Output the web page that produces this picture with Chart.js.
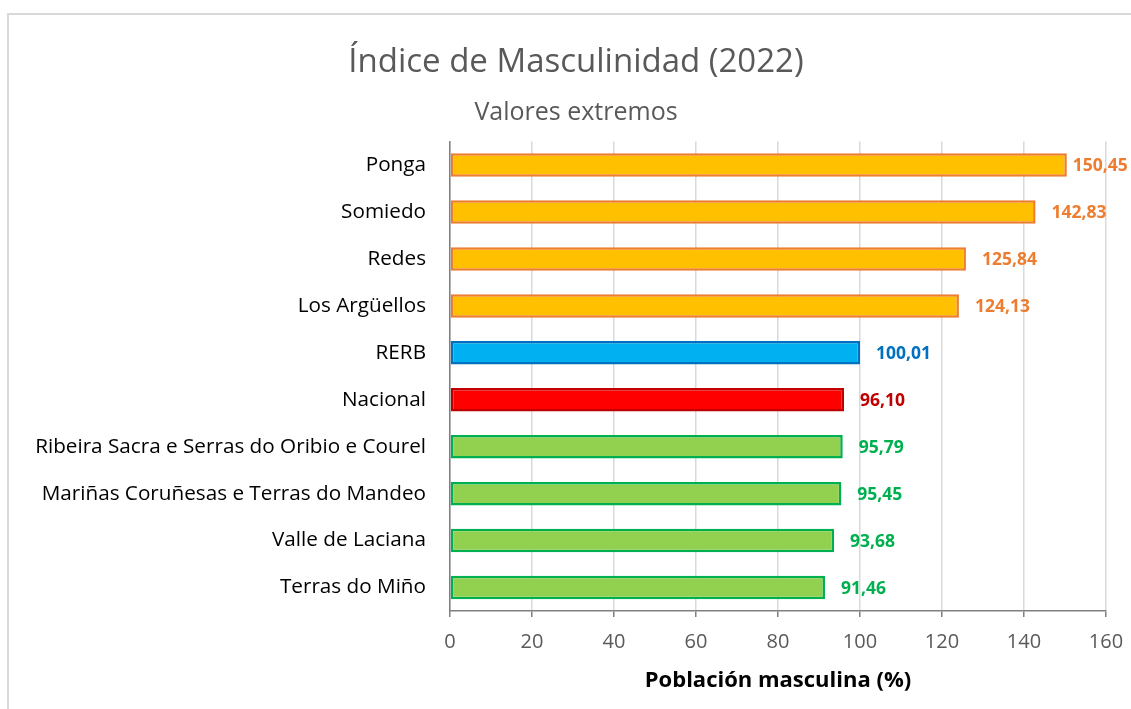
<!DOCTYPE html>
<html>
<head>
<meta charset="utf-8">
<script src="https://cdn.jsdelivr.net/npm/chart.js@4.4.0/dist/chart.umd.min.js"></script>
<style>
  html, body { margin: 0; padding: 0; background: #fff; overflow: hidden; }
  #frame {
    position: absolute; left: 7px; top: 13px; width: 1200px; height: 760px;
    border: 2px solid #D9D9D9; box-sizing: border-box;
  }
  #wrap { position: absolute; left: 0; top: 0; width: 1152px; height: 709px; }
</style>
</head>
<body>
<div id="frame"></div>
<div id="wrap"><canvas id="indexChart" width="1152" height="709"></canvas></div>
<script>
// categories, top to bottom
const regions = [
  'Ponga', 'Somiedo', 'Redes', 'Los Argüellos', 'RERB', 'Nacional',
  'Ribeira Sacra e Serras do Oribio e Courel',
  'Mariñas Coruñesas e Terras do Mandeo',
  'Valle de Laciana', 'Terras do Miño'
];
const masculinity = [150.45, 142.83, 125.84, 124.13, 100.01, 96.10, 95.79, 95.45, 93.68, 91.46];
const xTicks = [0, 20, 40, 60, 80, 100, 120, 140, 160];

// group of each bar -> colours
const groups = ['high', 'high', 'high', 'high', 'rerb', 'nac', 'low', 'low', 'low', 'low'];
const fills = { high: '#FFC000', rerb: '#00B0F0', nac: '#FF0000', low: '#92D050' };
const borders = { high: '#ED7D31', rerb: '#0070C0', nac: '#C00000', low: '#00B050' };
const labelColors = { high: '#ED7D31', rerb: '#0070C0', nac: '#C00000', low: '#00B050' };

const FONT = "'Open Sans', sans-serif";

// value labels to the right of each bar, comma decimals
const valueLabels = {
  id: 'valueLabels',
  afterDatasetsDraw(chart) {
    const ctx = chart.ctx;
    const meta = chart.getDatasetMeta(0);
    ctx.save();
    ctx.font = 'bold 17.5px ' + FONT;
    ctx.textBaseline = 'middle';
    ctx.textAlign = 'left';
    meta.data.forEach((bar, i) => {
      const txt = masculinity[i].toFixed(2).replace('.', ',');
      const gap = i === 0 ? 6 : 16;
      ctx.fillStyle = labelColors[groups[i]];
      ctx.fillText(txt, bar.x + gap, bar.y + 1);
    });
    ctx.restore();
  }
};

const ctx = document.getElementById('indexChart');

const chart = new Chart(ctx, {
  type: 'bar',
  data: {
    labels: regions,
    datasets: [{
      data: masculinity,
      backgroundColor: groups.map(g => fills[g]),
      borderColor: groups.map(g => borders[g]),
      borderWidth: 2.5,
      borderSkipped: false,
      barPercentage: 0.5,
      categoryPercentage: 1
    }]
  },
  options: {
    indexAxis: 'y',
    responsive: false,
    animation: false,
    layout: { padding: 0 },
    plugins: {
      legend: { display: false },
      tooltip: { enabled: false },
      title: {
        display: true,
        text: 'Índice de Masculinidad (2022)',
        color: '#595959',
        font: { family: FONT, size: 33, weight: 'normal' },
        padding: { top: 43, bottom: 7 }
      },
      subtitle: {
        display: true,
        text: 'Valores extremos',
        color: '#595959',
        font: { family: FONT, size: 25, weight: 'normal' },
        padding: { top: 8, bottom: 14 }
      }
    },
    scales: {
      x: {
        min: 0,
        max: 160,
        afterBuildTicks: scale => { scale.ticks = xTicks.map(v => ({ value: v })); },
        afterFit: scale => { scale.height = 98; },
        grid: {
          color: '#D9D9D9',
          lineWidth: 1.5,
          tickColor: '#808080',
          tickLength: 6
        },
        border: { color: '#808080', width: 1.5 },
        ticks: {
          color: '#595959',
          font: { family: FONT, size: 20 },
          padding: 13
        },
        title: {
          display: true,
          text: 'Población masculina (%)',
          color: '#000',
          font: { family: FONT, size: 22, weight: 'bold' },
          padding: { top: 2, bottom: 15 }
        }
      },
      y: {
        afterFit: scale => { scale.width = 450; },
        grid: { display: false },
        border: { color: '#808080', width: 1.5 },
        ticks: {
          color: '#000',
          font: { family: FONT, size: 20.7 },
          padding: 16
        }
      },
      // empty right-hand margin so the titles centre on the whole frame
      yRight: {
        position: 'right',
        type: 'category',
        afterFit: scale => { scale.width = 46; },
        grid: { display: false },
        border: { display: false },
        ticks: { display: false }
      }
    }
  },
  plugins: [valueLabels]
});
</script>
</body>
</html>
